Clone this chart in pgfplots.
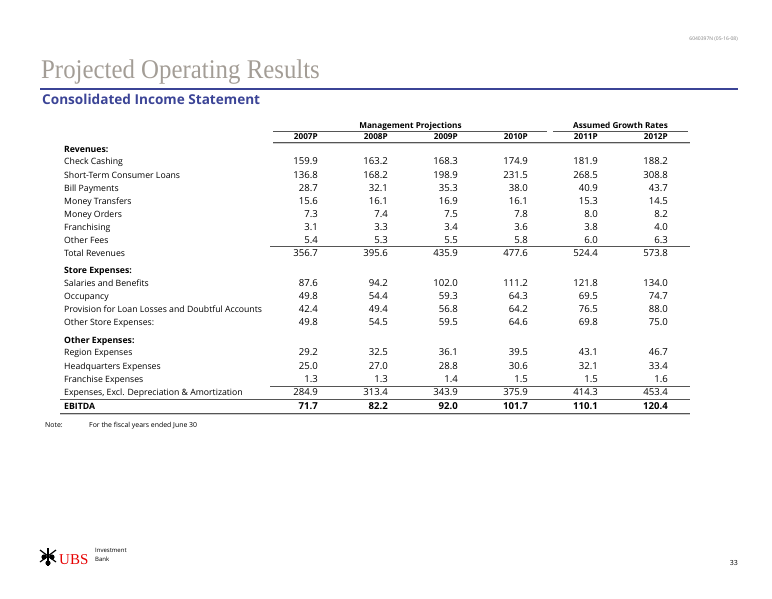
\documentclass[border=0pt]{standalone}
\usepackage{fontspec}
\setmainfont{Open Sans}
\newfontfamily\titlefont{Liberation Serif}
\newfontfamily\logofont{Liberation Serif}
\usepackage{pgfplots}
\usepackage{pgfplotstable}
\pgfplotsset{compat=1.18}
\definecolor{ubsblue}{HTML}{3B4496}
\definecolor{titlegray}{HTML}{A39D96}
\definecolor{rulegray}{HTML}{555555}
\definecolor{ubsred}{HTML}{E60000}

\pgfplotstableread{
y a b c d e f
162.3 159.9 163.2 168.3 174.9 181.9 188.2
175.5 136.8 168.2 198.9 231.5 268.5 308.8
188.5 28.7 32.1 35.3 38.0 40.9 43.7
201.5 15.6 16.1 16.9 16.1 15.3 14.5
214.5 7.3 7.4 7.5 7.8 8.0 8.2
227.5 3.1 3.3 3.4 3.6 3.8 4.0
240.5 5.4 5.3 5.5 5.8 6.0 6.3
253.5 356.7 395.6 435.9 477.6 524.4 573.8
284.0 87.6 94.2 102.0 111.2 121.8 134.0
297.0 49.8 54.4 59.3 64.3 69.5 74.7
310.0 42.4 49.4 56.8 64.2 76.5 88.0
323.0 49.8 54.5 59.5 64.6 69.8 75.0
353.3 29.2 32.5 36.1 39.5 43.1 46.7
366.5 25.0 27.0 28.8 30.6 32.1 33.4
379.5 1.3 1.3 1.4 1.5 1.5 1.6
392.7 284.9 313.4 343.9 375.9 414.3 453.4
}\rows
\pgfplotstableread{
y a b c d e f
406.5 71.7 82.2 92.0 101.7 110.1 120.4
}\ebitda

\newcommand{\bodyfont}{\fontsize{8.7}{10}\selectfont}
\newcommand{\numfont}{\fontsize{9.6}{11}\selectfont}
\newcommand{\hdrfont}{\fontsize{8.2}{9}\selectfont\bfseries}

\begin{document}
\begin{tikzpicture}
\begin{axis}[
  width=772pt, height=598pt, scale only axis,
  xmin=0, xmax=772, ymin=0, ymax=598, y dir=reverse,
  axis line style={draw=none}, tick style={draw=none},
  xtick=\empty,
  ytick={150,162.3,175.5,188.5,201.5,214.5,227.5,240.5,253.5,270.5,284,297,310,323,340.5,353.3,366.5,379.5,392.7,406.5},
  yticklabels={\textbf{Revenues:},Check Cashing,Short-Term Consumer Loans,Bill Payments,Money Transfers,Money Orders,Franchising,Other Fees,Total Revenues,\textbf{Store Expenses:},Salaries and Benefits,Occupancy,Provision for Loan Losses and Doubtful Accounts,Other Store Expenses:,\textbf{Other Expenses:},Region Expenses,Headquarters Expenses,Franchise Expenses,{Expenses, Excl. Depreciation \& Amortization},\textbf{EBITDA}},
  yticklabel style={anchor=mid west, inner sep=0pt, xshift=64pt, font=\bodyfont},
  clip=false,
  nodes near coords, point meta=explicit symbolic,
  every node near coord/.append style={anchor=mid east, inner sep=0pt, font=\numfont},
]
\addplot[draw=none] table[x expr=318, y=y, meta=a]{\rows};
\addplot[draw=none] table[x expr=388, y=y, meta=b]{\rows};
\addplot[draw=none] table[x expr=458, y=y, meta=c]{\rows};
\addplot[draw=none] table[x expr=528, y=y, meta=d]{\rows};
\addplot[draw=none] table[x expr=598, y=y, meta=e]{\rows};
\addplot[draw=none] table[x expr=668, y=y, meta=f]{\rows};
\addplot[draw=none, every node near coord/.append style={font=\numfont\bfseries}] table[x expr=318, y=y, meta=a]{\ebitda};
\addplot[draw=none, every node near coord/.append style={font=\numfont\bfseries}] table[x expr=388, y=y, meta=b]{\ebitda};
\addplot[draw=none, every node near coord/.append style={font=\numfont\bfseries}] table[x expr=458, y=y, meta=c]{\ebitda};
\addplot[draw=none, every node near coord/.append style={font=\numfont\bfseries}] table[x expr=528, y=y, meta=d]{\ebitda};
\addplot[draw=none, every node near coord/.append style={font=\numfont\bfseries}] table[x expr=598, y=y, meta=e]{\ebitda};
\addplot[draw=none, every node near coord/.append style={font=\numfont\bfseries}] table[x expr=668, y=y, meta=f]{\ebitda};

% header texts
\node[anchor=mid east, inner sep=0pt, font=\fontsize{5}{6}\selectfont, text=gray] at (axis cs:738,38) {6040397N (05-16-08)};
\node[anchor=base west, inner sep=0pt, text=titlegray, xscale=0.92] at (axis cs:41,78) {\titlefont\fontsize{27}{30}\selectfont Projected Operating Results};
\draw[ubsblue, line width=2pt] (axis cs:40,89) -- (axis cs:738,89);
\node[anchor=mid west, inner sep=0pt, text=ubsblue, font=\fontsize{13.6}{15}\selectfont\bfseries] at (axis cs:42,101.5) {Consolidated Income Statement};

\node[anchor=mid, inner sep=0pt, font=\hdrfont] at (axis cs:410.5,126) {Management Projections};
\node[anchor=mid, inner sep=0pt, font=\hdrfont] at (axis cs:620.5,126) {Assumed Growth Rates};
\draw[rulegray, line width=1pt] (axis cs:273,131.5) -- (axis cs:547,131.5);
\draw[rulegray, line width=1pt] (axis cs:553,131.5) -- (axis cs:688,131.5);
\node[anchor=mid east, inner sep=0pt, font=\hdrfont] at (axis cs:318,137) {2007P};
\node[anchor=mid east, inner sep=0pt, font=\hdrfont] at (axis cs:388,137) {2008P};
\node[anchor=mid east, inner sep=0pt, font=\hdrfont] at (axis cs:458,137) {2009P};
\node[anchor=mid east, inner sep=0pt, font=\hdrfont] at (axis cs:528,137) {2010P};
\node[anchor=mid east, inner sep=0pt, font=\hdrfont] at (axis cs:598,137) {2011P};
\node[anchor=mid east, inner sep=0pt, font=\hdrfont] at (axis cs:668,137) {2012P};
\draw[rulegray, line width=1pt] (axis cs:273,142.5) -- (axis cs:690,142.5);
\draw[gray!40, line width=0.6pt] (axis cs:273,143.6) -- (axis cs:690,143.6);

% row rules
\draw[rulegray, line width=0.7pt] (axis cs:270,246.8) -- (axis cs:690,246.8);
\draw[rulegray, line width=0.7pt] (axis cs:270,386) -- (axis cs:690,386);
\draw[rulegray, line width=0.9pt] (axis cs:60,399.6) -- (axis cs:690,399.6);
\draw[rulegray, line width=0.9pt] (axis cs:60,413) -- (axis cs:690,413);
\draw[gray!40, line width=0.8pt] (axis cs:60,414.2) -- (axis cs:690,414.2);

% note
\node[anchor=mid west, inner sep=0pt, font=\fontsize{6.9}{8}\selectfont] at (axis cs:45,425) {Note:};
\node[anchor=mid west, inner sep=0pt, font=\fontsize{6.9}{8}\selectfont] at (axis cs:89,425) {For the fiscal years ended June 30};

% footer logo
\fill[black] (axis cs:44,557) circle (2.6pt);
\fill[black] (axis cs:52,557) circle (2.6pt);
\fill[black] (axis cs:48,563) circle (2.6pt);
\draw[black, line width=1.2pt] (axis cs:40,550) -- (axis cs:56,562);
\draw[black, line width=1.2pt] (axis cs:56,550) -- (axis cs:40,562);
\draw[black, line width=1.2pt] (axis cs:48,548) -- (axis cs:48,566);
\node[anchor=base west, inner sep=0pt, text=ubsred] at (axis cs:59,564) {\logofont\fontsize{15}{17}\selectfont UBS};
\node[anchor=mid west, inner sep=0pt, align=left, font=\fontsize{6}{9}\selectfont] at (axis cs:95,558.5) {Investment\\Bank};
\node[anchor=mid east, inner sep=0pt, font=\fontsize{7}{8}\selectfont] at (axis cs:738,563) {33};
\end{axis}
\end{tikzpicture}
\end{document}
